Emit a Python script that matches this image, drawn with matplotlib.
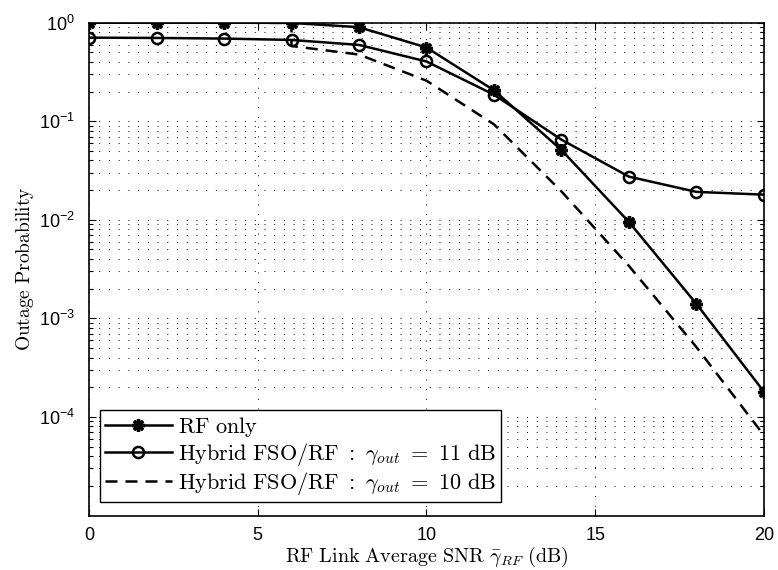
import math

import matplotlib
matplotlib.use("Agg")
import matplotlib.pyplot as plt
from matplotlib.ticker import FixedLocator, FuncFormatter, LogLocator, NullFormatter

plt.rcParams["mathtext.fontset"] = "cm"
plt.rcParams["font.family"] = ["Liberation Sans", "DejaVu Sans"]

# outage probability vs. RF link average SNR (dB)
snr_db = [0, 2, 4, 6, 8, 10, 12, 14, 16, 18, 20]
p_rf_only = [1.0, 1.0, 1.0, 0.995, 0.90, 0.56, 0.206, 0.051, 0.0095, 0.0014, 1.8e-4]
p_hybrid_11 = [0.705, 0.70, 0.69, 0.668, 0.595, 0.404, 0.186, 0.065, 0.0274, 0.0192, 0.018]
snr_db_10 = [0, 2, 4, 6, 6, 8, 10, 12, 14, 16, 18, 20]
p_hybrid_10 = [1.0, 1.0, 1.0, 0.995, 0.58, 0.475, 0.258, 0.093, 0.0194, 0.0034, 5.1e-4, 6.5e-5]

labels = [
    r"$\mathrm{RF\ only}$",
    r"$\mathrm{Hybrid\ FSO/RF\ :}\ \gamma_{out}\ \mathrm{=\ 11\ dB}$",
    r"$\mathrm{Hybrid\ FSO/RF\ :}\ \gamma_{out}\ \mathrm{=\ 10\ dB}$",
]

fig = plt.figure(figsize=(7.78, 5.70), dpi=100)
ax = fig.add_axes([0.1144, 0.0956, 0.8676, 0.8646])

ax.plot(snr_db_10, p_hybrid_10, color="black", lw=1.8, dashes=(4.8, 3.2), zorder=2)
ax.plot(snr_db, p_rf_only, color="black", lw=1.8, marker=(8, 2, 0), ms=9, mew=2.4, zorder=3)
ax.plot(snr_db, p_hybrid_11, color="black", lw=1.8, marker="o", ms=8, mfc="none", mew=1.8, zorder=3)

ax.set_yscale("log")
ax.set_xlim(0, 20)
ax.set_ylim(1e-5, 1)

ax.xaxis.set_major_locator(FixedLocator([0, 5, 10, 15, 20]))
ax.yaxis.set_major_locator(FixedLocator([1e-4, 1e-3, 1e-2, 1e-1, 1e0]))
ax.yaxis.set_minor_locator(LogLocator(base=10, subs=range(2, 10), numticks=20))
ax.yaxis.set_minor_formatter(NullFormatter())
ax.yaxis.set_major_formatter(FuncFormatter(
    lambda v, _: r"$\mathregular{10^{%d}}$" % round(math.log10(v))))

ax.tick_params(which="both", direction="in", top=True, right=True, width=0.8)
ax.tick_params(which="major", length=5, labelsize=13)
ax.tick_params(which="minor", length=3)
ax.tick_params(axis="x", which="major", pad=8)
ax.tick_params(axis="y", which="major", pad=10)

grid_style = dict(color="black", linestyle=(0, (1, 9)), linewidth=0.7)
ax.grid(True, which="major", axis="both", **grid_style)
ax.grid(True, which="minor", axis="y", **grid_style)

for side in ax.spines.values():
    side.set_linewidth(1.2)

ax.set_xlabel(r"$\mathrm{RF\ Link\ Average\ SNR}\ \bar{\gamma}_{RF}\ \mathrm{(dB)}$",
              fontsize=14.5, labelpad=1)
ax.set_ylabel(r"$\mathrm{Outage\ Probability}$", fontsize=14, labelpad=2)

handles = ax.get_lines()
leg = ax.legend([handles[1], handles[2], handles[0]], labels,
                loc="lower left", bbox_to_anchor=(0.0163, 0.028), borderaxespad=0,
                fontsize=16, handlelength=3.0, handletextpad=0.3,
                borderpad=0.22, labelspacing=0.08, fancybox=False, framealpha=1,
                edgecolor="black")
leg.get_frame().set_linewidth(1.0)

fig.savefig("out.png", dpi=100)
